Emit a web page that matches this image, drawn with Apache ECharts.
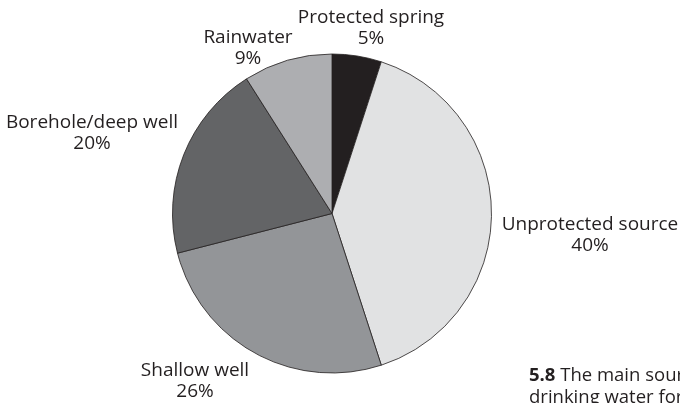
<!DOCTYPE html>
<html>
<head>
<meta charset="utf-8">
<script src="https://cdn.jsdelivr.net/npm/echarts@6/dist/echarts.min.js"></script>
<style>
  html, body { margin: 0; padding: 0; background: #ffffff; }
  #chart { width: 680px; height: 403px; }
</style>
</head>
<body>
<div id="chart"></div>
<script>
// Main sources of drinking water (share of households, %)
const categories = ['Protected spring', 'Unprotected source', 'Shallow well', 'Borehole/deep well', 'Rainwater'];
const shares = [5, 40, 26, 20, 9];
const sliceColors = ['#231f20', '#e1e2e3', '#939598', '#636466', '#adaeb1'];
// Where each slice label sits (centre of the two-line label block)
const labelSpots = [[371, 28], [590, 235], [195, 381], [92, 133.5], [248, 48]];

const chart = echarts.init(document.getElementById('chart'), null, { renderer: 'canvas' });

const fontFamily = '"Open Sans", Lato, sans-serif';

chart.setOption({
  animation: false,
  backgroundColor: '#ffffff',
  graphic: [{
    type: 'text',
    left: 529,
    top: 365,
    style: {
      text: '{b|5.8} The main source of\ndrinking water for households',
      fill: '#231f20',
      font: '18.5px ' + fontFamily,
      lineHeight: 22,
      rich: {
        b: { fontWeight: 'bold', fontSize: 18.5, fontFamily: fontFamily, fill: '#231f20' }
      }
    }
  }],
  series: [{
    type: 'pie',
    center: [332, 213.5],
    radius: [0, 159.5],
    startAngle: 90,
    clockwise: true,
    avoidLabelOverlap: false,
    itemStyle: { borderColor: '#231f20', borderWidth: 0.8 },
    label: {
      show: true,
      position: 'outside',
      formatter: p => p.name + '\n' + p.value + '%',
      color: '#231f20',
      fontFamily: fontFamily,
      fontSize: 19,
      lineHeight: 21,
      align: 'center'
    },
    labelLine: { show: false },
    labelLayout: p => ({
      x: labelSpots[p.dataIndex][0],
      y: labelSpots[p.dataIndex][1],
      align: 'center',
      verticalAlign: 'middle'
    }),
    emphasis: { disabled: true },
    data: categories.map((name, i) => ({
      name: name,
      value: shares[i],
      itemStyle: { color: sliceColors[i] }
    }))
  }]
});
</script>
</body>
</html>
